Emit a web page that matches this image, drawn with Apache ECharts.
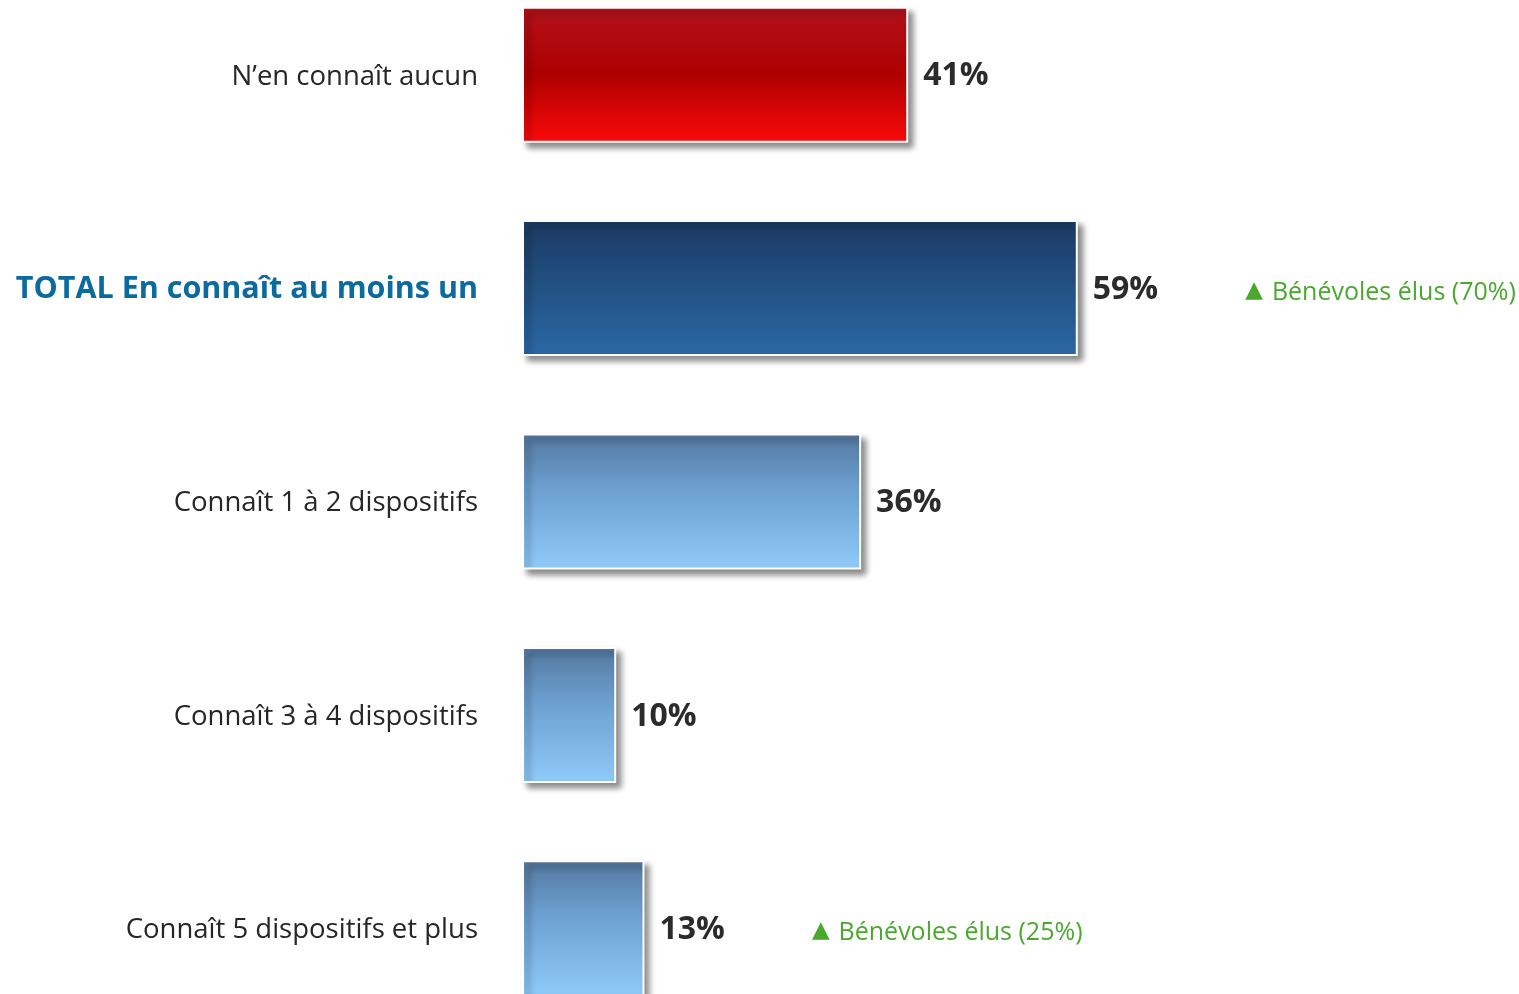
<html>
<head>
    <meta charset="utf-8">
    <script src="https://cdn.jsdelivr.net/npm/echarts@6/dist/echarts.min.js"></script>
    <style>
        html, body { margin: 0; padding: 0; background: #fff; overflow: hidden; }
        /* bottom bar runs past the frame in the original, so the plot is taller than the page */
        #main { position: absolute; left: 0; top: -32px; width: 1519px; height: 1067px; }
    </style>
</head>
<body>
<div id="main"></div>
<script>
    // data
    var categories = [
        'N\u2019en connaît aucun',
        'TOTAL En connaît au moins un',
        'Connaît 1 à 2 dispositifs',
        'Connaît 3 à 4 dispositifs',
        'Connaît 5 dispositifs et plus'
    ];
    var values = [41, 59, 36, 10, 13];
    var notes = ['', 'Bénévoles élus (70%)', '', '', 'Bénévoles élus (25%)'];

    var chart = echarts.init(document.getElementById('main'));

    var grad = function (stops) {
        return new echarts.graphic.LinearGradient(0, 0, 0, 1, stops.map(function (s) {
            return {offset: s[0], color: s[1]};
        }));
    };
    var light = [[0, '#54789f'], [0.4, '#6c9fd0'], [1, '#8fcbfa']];
    var fills = [
        grad([[0, '#b3121b'], [0.5, '#ae0000'], [1, '#fc0a0a']]),
        grad([[0, '#1b3a62'], [1, '#2a68a5']]),
        grad(light),
        grad(light),
        grad(light)
    ];

    var seriesData = values.map(function (v, i) {
        return {
            value: v,
            itemStyle: {color: fills[i]}
        };
    });

    var option = {
        animation: false,
        grid: {
            left: 522,
            width: 942,
            top: 0,
            bottom: 0
        },
        xAxis: {
            type: 'value',
            min: 0,
            max: 100,
            show: false
        },
        yAxis: {
            type: 'category',
            inverse: true,
            data: categories,
            axisLine: {show: false},
            axisTick: {show: false},
            splitLine: {show: false},
            axisLabel: {
                margin: 44,
                formatter: function (v, i) {
                    return i === 1 ? '{t|' + v + '}' : '{n|' + v + '}';
                },
                rich: {
                    n: {
                        fontFamily: 'Open Sans',
                        fontSize: 27.5,
                        color: '#262626',
                        padding: [4, 0, 0, 0]
                    },
                    t: {
                        fontFamily: 'Open Sans',
                        fontWeight: 'bold',
                        fontSize: 30.5,
                        color: '#0b6aa0',
                        padding: [2, 0, 0, 0]
                    }
                }
            }
        },
        series: [{
            type: 'bar',
            barWidth: 136,
            data: seriesData,
            itemStyle: {
                borderColor: '#ffffff',
                borderWidth: 2,
                shadowColor: 'rgba(0, 0, 0, 0.45)',
                shadowBlur: 6,
                shadowOffsetX: 5,
                shadowOffsetY: 5
            },
            label: {
                show: true,
                position: 'right',
                distance: 15,
                formatter: function (p) {
                    var s = '{v|' + p.value + '%}';
                    if (notes[p.dataIndex]) {
                        s += '{tri|\u25B2}{g|' + notes[p.dataIndex] + '}';
                    }
                    return s;
                },
                rich: {
                    v: {
                        fontFamily: 'Open Sans',
                        fontWeight: 'bold',
                        fontSize: 32,
                        color: '#2b2b2b',
                        verticalAlign: 'top',
                        padding: [3, 0, 0, 0]
                    },
                    tri: {
                        fontFamily: 'DejaVu Sans',
                        fontSize: 23,
                        color: '#4aa82e',
                        verticalAlign: 'top',
                        padding: [9, 9, 0, 87]
                    },
                    g: {
                        fontFamily: 'Open Sans',
                        fontSize: 25,
                        color: '#4aa82e',
                        verticalAlign: 'top',
                        padding: [10, 0, 0, 0]
                    }
                }
            }
        }]
    };

    chart.setOption(option);
</script>
</body>
</html>
